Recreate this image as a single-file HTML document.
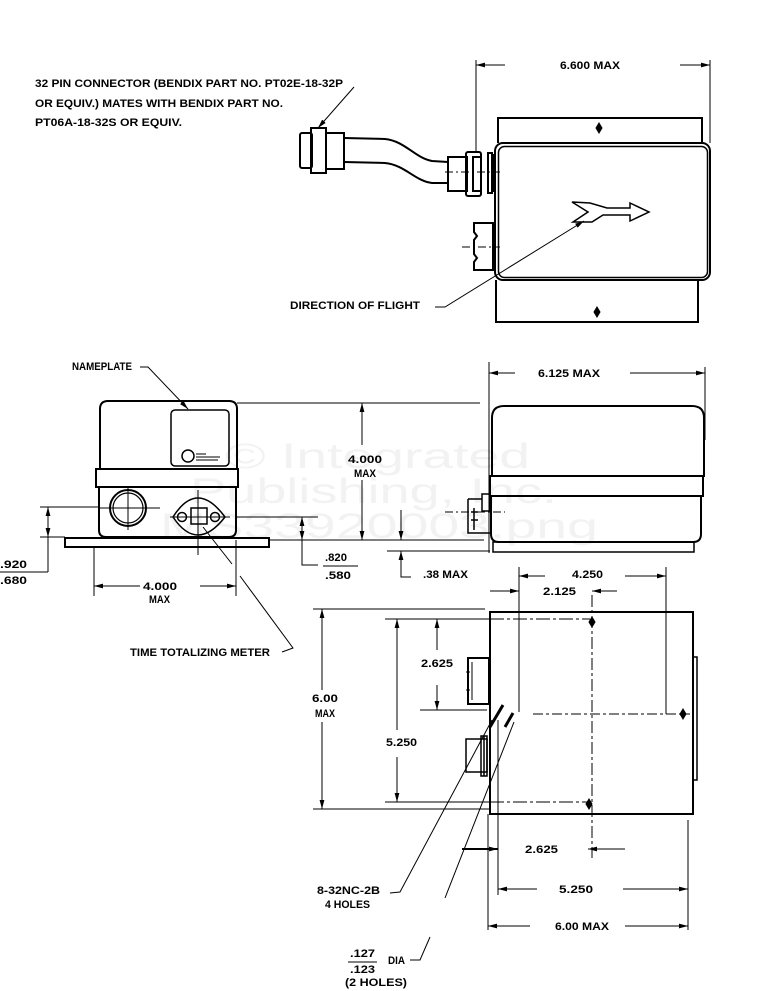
<!DOCTYPE html>
<html><head><meta charset="utf-8"><style>
html,body{margin:0;padding:0;background:#fff;}
svg{display:block;}
text{font-family:"Liberation Sans",sans-serif;font-weight:bold;font-size:11px;fill:#000;}
.wm{font-weight:normal;font-size:35px;fill:#f2f2f2;}
</style></head><body>
<svg width="758" height="991" viewBox="0 0 758 991" xmlns="http://www.w3.org/2000/svg">
<defs>
<marker id="a" markerWidth="10" markerHeight="6" refX="9" refY="3" orient="auto-start-reverse" markerUnits="userSpaceOnUse"><path d="M0,0.6 L9,3 L0,5.4z" fill="#000"/></marker>
</defs>
<!-- watermark -->
<text class="wm" x="225" y="468" textLength="305" lengthAdjust="spacingAndGlyphs">© Integrated</text>
<text class="wm" x="190" y="503" textLength="367" lengthAdjust="spacingAndGlyphs">Publishing, Inc.</text>
<text class="wm" x="160" y="538" textLength="438" lengthAdjust="spacingAndGlyphs">MS33920003.png</text>

<g fill="none" stroke="#000" stroke-width="1">
<!-- ===== TOP VIEW ===== -->
<path d="M354,87 L318,128" marker-end="url(#a)"/>
<g stroke-width="2">
<rect x="300" y="133" width="12" height="35" rx="2"/>
<rect x="311" y="128" width="15" height="45"/>
<rect x="326" y="133" width="18" height="36"/>
<path d="M344,138 L385,139 C405,141 415,158 432,161 L448,162"/>
<path d="M344,162 L385,163 C405,165 415,181 432,183 L448,183"/>
<rect x="448" y="157" width="19" height="34"/>
<rect x="466" y="152" width="15" height="44" rx="2"/>
<rect x="473" y="157" width="8" height="34"/>
<rect x="488" y="153" width="4" height="40"/>
<line x1="494" y1="154" x2="494" y2="192"/>
<rect x="495" y="143" width="215" height="137" rx="8"/>
<path d="M498,143 L498,118 L702,118 L702,143"/>
<path d="M496,280 L496,322 L698,322 L698,280"/>
<path d="M474,223 L493,223 L493,270 L474,270 L474,262 L477,258 L474,254 L474,240 L477,236 L474,232 Z"/>
</g>
<rect x="498.5" y="146.5" width="209" height="131" rx="6" stroke-width="1.5"/>
<path d="M445,172 L500,172" stroke-dasharray="8,3,2,3"/>
<path d="M462,247 L500,247" stroke-dasharray="8,3,2,3"/>
<path d="M599,123 L602,128 L599,133 L596,128Z M597,307 L600,312 L597,317 L594,312Z" fill="#000"/>
<line x1="476" y1="60" x2="476" y2="152"/>
<line x1="710" y1="60" x2="710" y2="143"/>
<line x1="505" y1="65" x2="476" y2="65" marker-end="url(#a)"/>
<line x1="680" y1="65" x2="710" y2="65" marker-end="url(#a)"/>
<polygon points="572,202 590,203 607,208 630,208 630,203 649,212 630,221 630,215 603,215 592,222 573,222 588,212" stroke-width="1.5"/>
<path d="M435,307 L445,307 L584,221" marker-end="url(#a)"/>

<!-- ===== FRONT VIEW ===== -->
<path d="M140,367 L148,367 L188,409" marker-end="url(#a)"/>
<g stroke-width="2">
<path d="M100,469 L100,409 Q100,401 108,401 L229,401 Q237,401 237,409 L237,469"/>
<rect x="96" y="469" width="142" height="18"/>
<path d="M99,487 L99,530 Q99,537 106,537 L229,537 Q236,537 236,530 L236,487"/>
<rect x="65" y="538" width="204" height="9"/>
<circle cx="128" cy="508" r="18"/>
</g>
<rect x="171" y="410" width="58" height="56" rx="4" stroke-width="1.5"/>
<circle cx="188" cy="456" r="6" stroke-width="1.5"/>
<path d="M196,454 L206,454 M196,457 L220,457 M196,460 L218,460"/>
<circle cx="128" cy="508" r="15" stroke-width="1.2"/>
<path d="M100,508 L160,508 M128,487 L128,530"/>
<path d="M173,517 Q185,498 198,498 Q211,498 225,517 Q211,535 198,535 Q185,535 173,517Z" stroke-width="1.5"/>
<circle cx="182" cy="517" r="4.5" stroke-width="1.5"/>
<circle cx="215" cy="517" r="4.5" stroke-width="1.5"/>
<rect x="191" y="508" width="16" height="16" stroke-width="1.5"/>
<path d="M198,490 L198,555 M170,517 L230,517"/>
<!-- .920/.680 -->
<path d="M40,507 L100,507 M40,537 L65,537 M48,507 L48,572 M0,572 L48,572"/>
<line x1="48" y1="522" x2="48" y2="507" marker-end="url(#a)"/>
<line x1="48" y1="522" x2="48" y2="537" marker-end="url(#a)"/>
<!-- 4.000 MAX horizontal -->
<path d="M94,547 L94,596 M236,540 L236,596"/>
<line x1="140" y1="586" x2="94" y2="586" marker-end="url(#a)"/>
<line x1="200" y1="586" x2="236" y2="586" marker-end="url(#a)"/>
<!-- time totalizing leader -->
<path d="M203,527 L232,564 M240,576 L293,648 L282,652"/>
<!-- 4.000 MAX vertical -->
<path d="M237,403 L480,403 M268,540 L484,540"/>
<line x1="362" y1="445" x2="362" y2="403" marker-end="url(#a)"/>
<line x1="362" y1="480" x2="362" y2="540" marker-end="url(#a)"/>
<!-- .820/.580 -->
<path d="M237,517 L318,517 M302,540 L302,565 L318,565 M323,566 L358,566"/>
<line x1="302" y1="530" x2="302" y2="517" marker-end="url(#a)"/>
<line x1="302" y1="530" x2="302" y2="540" marker-end="url(#a)"/>
<!-- .38 MAX -->
<path d="M387,551 L490,551 M401,551 L401,577 L411,577"/>
<line x1="401" y1="510" x2="401" y2="540" marker-end="url(#a)"/>
<line x1="401" y1="566" x2="401" y2="551" marker-end="url(#a)"/>

<!-- ===== SIDE VIEW ===== -->
<path d="M489,362 L489,553 M705,367 L705,440"/>
<line x1="515" y1="373" x2="489" y2="373" marker-end="url(#a)"/>
<line x1="630" y1="373" x2="705" y2="373" marker-end="url(#a)"/>
<g stroke-width="2">
<path d="M492,477 L492,418 Q492,406 504,406 L692,406 Q704,406 704,418 L704,477"/>
<rect x="490" y="476" width="213" height="20"/>
<path d="M491,496 L491,534 Q491,542 499,542 L693,542 Q701,542 701,534 L701,496"/>
<rect x="493" y="542" width="201" height="10" stroke-width="1.5"/>
</g>
<path d="M482,494 L490,494 L490,511 L482,511Z M468,499 L482,499 M468,499 L468,533 L490,533 M474,508 L474,530 M471,512 L478,512 M471,520 L478,520" stroke-width="1.5"/>
<path d="M445,512 L505,512" stroke-dasharray="8,3,2,3"/>

<!-- ===== BOTTOM VIEW ===== -->
<g stroke-width="2">
<rect x="490" y="612" width="203" height="202"/>
<rect x="468" y="658" width="21" height="46"/>
<rect x="466" y="739" width="21" height="33" stroke-width="1.5"/>
</g>
<rect x="693" y="657" width="4" height="123" stroke-width="1.5"/>
<path d="M481,736 L487,736 L487,776 L481,776Z M484,736 L484,776" stroke-width="1.5"/>
<path d="M472,662 L472,700 M466,672 L470,672 M466,690 L470,690"/>
<path d="M490,727 L503,705" stroke-width="3"/>
<path d="M505,727 L513,713" stroke-width="3"/>
<path d="M498,720 L498,895 M519,567 L519,712"/>
<path d="M533,714 L690,714" stroke-dasharray="10,3,3,3"/>
<path d="M592,595 L592,858" stroke-dasharray="12,3,3,3"/>
<path d="M666,567 L666,714"/>
<path d="M592,617 L595,622 L592,627 L589,622Z M683,709 L686,714 L683,719 L680,714Z M589,799 L592,804 L589,809 L586,804Z" fill="#000"/>
<!-- 4.250 -->
<line x1="545" y1="576" x2="519" y2="576" marker-end="url(#a)"/>
<line x1="625" y1="576" x2="666" y2="576" marker-end="url(#a)"/>
<!-- 2.125 -->
<line x1="490" y1="591" x2="519" y2="591" marker-end="url(#a)"/>
<line x1="617" y1="591" x2="592" y2="591" marker-end="url(#a)"/>
<!-- 6.00 MAX vertical -->
<path d="M313,609 L485,609 M313,809 L490,809"/>
<line x1="322" y1="690" x2="322" y2="609" marker-end="url(#a)"/>
<line x1="322" y1="722" x2="322" y2="809" marker-end="url(#a)"/>
<!-- 5.250 vertical -->
<path d="M385,619 L490,619 M385,802 L490,802"/>
<path d="M490,619 L590,619 M490,802 L590,802" stroke-dasharray="14,3,3,3"/>
<line x1="397" y1="730" x2="397" y2="619" marker-end="url(#a)"/>
<line x1="397" y1="757" x2="397" y2="802" marker-end="url(#a)"/>
<!-- 2.625 vertical -->
<path d="M420,710 L487,710"/>
<line x1="437" y1="650" x2="437" y2="619" marker-end="url(#a)"/>
<line x1="437" y1="685" x2="437" y2="710" marker-end="url(#a)"/>
<!-- below ext lines -->
<path d="M488,814 L488,930 M688,820 L688,930"/>
<line x1="462" y1="849" x2="498" y2="849" stroke-width="2" marker-end="url(#a)"/>
<line x1="625" y1="849" x2="588" y2="849" marker-end="url(#a)"/>
<line x1="537" y1="889" x2="498" y2="889" marker-end="url(#a)"/>
<line x1="623" y1="889" x2="688" y2="889" marker-end="url(#a)"/>
<line x1="530" y1="926" x2="488" y2="926" marker-end="url(#a)"/>
<line x1="625" y1="926" x2="688" y2="926" marker-end="url(#a)"/>
<!-- leaders -->
<path d="M390,893 L400,892 L492,720"/>
<path d="M445,898 L514,722"/>
<path d="M410,960 L420,960 L430,937"/>
<path d="M348,962 L377,962"/>
</g>

<!-- ===== TEXT ===== -->
<text x="35" y="87" textLength="308" lengthAdjust="spacingAndGlyphs">32 PIN CONNECTOR (BENDIX PART NO. PT02E-18-32P</text>
<text x="35" y="107" textLength="248" lengthAdjust="spacingAndGlyphs">OR EQUIV.) MATES WITH BENDIX PART NO.</text>
<text x="35" y="126" textLength="147" lengthAdjust="spacingAndGlyphs">PT06A-18-32S OR EQUIV.</text>
<text x="560" y="69" textLength="60" lengthAdjust="spacingAndGlyphs">6.600 MAX</text>
<text x="290" y="309" textLength="130" lengthAdjust="spacingAndGlyphs">DIRECTION OF FLIGHT</text>
<text x="72" y="370" textLength="60" lengthAdjust="spacingAndGlyphs">NAMEPLATE</text>
<text x="538" y="377" textLength="62" lengthAdjust="spacingAndGlyphs">6.125 MAX</text>
<text x="348" y="463" textLength="34" lengthAdjust="spacingAndGlyphs">4.000</text>
<text x="354" y="477" textLength="22" lengthAdjust="spacingAndGlyphs">MAX</text>
<text x="0" y="568" textLength="27" lengthAdjust="spacingAndGlyphs">.920</text>
<text x="0" y="584" textLength="27" lengthAdjust="spacingAndGlyphs">.680</text>
<text x="325" y="561" textLength="22" lengthAdjust="spacingAndGlyphs">.820</text>
<text x="325" y="579" textLength="26" lengthAdjust="spacingAndGlyphs">.580</text>
<text x="423" y="578" textLength="45" lengthAdjust="spacingAndGlyphs">.38 MAX</text>
<text x="143" y="590" textLength="34" lengthAdjust="spacingAndGlyphs">4.000</text>
<text x="149" y="603" textLength="21" lengthAdjust="spacingAndGlyphs">MAX</text>
<text x="572" y="578" textLength="31" lengthAdjust="spacingAndGlyphs">4.250</text>
<text x="543" y="595" textLength="33" lengthAdjust="spacingAndGlyphs">2.125</text>
<text x="130" y="656" textLength="140" lengthAdjust="spacingAndGlyphs">TIME TOTALIZING METER</text>
<text x="421" y="667" textLength="32" lengthAdjust="spacingAndGlyphs">2.625</text>
<text x="312" y="702" textLength="26" lengthAdjust="spacingAndGlyphs">6.00</text>
<text x="315" y="717" textLength="20" lengthAdjust="spacingAndGlyphs">MAX</text>
<text x="386" y="746" textLength="31" lengthAdjust="spacingAndGlyphs">5.250</text>
<text x="525" y="853" textLength="33" lengthAdjust="spacingAndGlyphs">2.625</text>
<text x="559" y="893" textLength="34" lengthAdjust="spacingAndGlyphs">5.250</text>
<text x="555" y="930" textLength="54" lengthAdjust="spacingAndGlyphs">6.00 MAX</text>
<text x="317" y="894" textLength="63" lengthAdjust="spacingAndGlyphs">8-32NC-2B</text>
<text x="325" y="908" textLength="45" lengthAdjust="spacingAndGlyphs">4 HOLES</text>
<text x="350" y="957" textLength="25" lengthAdjust="spacingAndGlyphs">.127</text>
<text x="388" y="964" textLength="17" lengthAdjust="spacingAndGlyphs">DIA</text>
<text x="350" y="973" textLength="25" lengthAdjust="spacingAndGlyphs">.123</text>
<text x="345" y="986" textLength="62" lengthAdjust="spacingAndGlyphs">(2 HOLES)</text>
</svg>
</body></html>
